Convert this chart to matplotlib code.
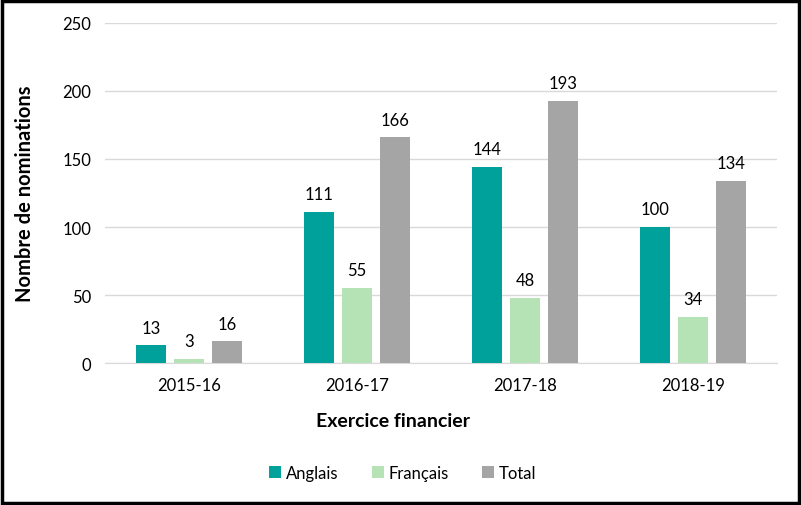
import numpy as np
from matplotlib import pyplot as plt

plt.rcParams['font.family'] = ['Lato', 'DejaVu Sans']

exercices = ['2015-16', '2016-17', '2017-18', '2018-19']
anglais = [13, 111, 144, 100]
francais = [3, 55, 48, 34]
total = [16, 166, 193, 134]

series = [('Anglais', anglais, '#00A19A'),
          ('Français', francais, '#B5E3B5'),
          ('Total', total, '#A5A5A5')]

fig = plt.figure(figsize=(8.01, 5.06), dpi=100)
ax = fig.add_axes([0.131, 0.2806, 0.839, 0.672])

x = np.arange(len(exercices))
w = 0.178
step = 0.226
for i, (nom, vals, coul) in enumerate(series):
    pos = x + (i - 1) * step
    barres = ax.bar(pos, vals, w, color=coul, label=nom, zorder=3)
    ax.bar_label(barres, padding=7, fontsize=12, color='#000000')

ax.set_xlim(-0.5, len(exercices) - 0.5)
ax.set_ylim(0, 250)
ax.set_yticks(range(0, 251, 50))
ax.grid(axis='y', color='#D9D9D9', linewidth=1, zorder=0)
ax.set_xticks(x)
ax.set_xticklabels(exercices)
ax.tick_params(axis='both', length=0, labelsize=12, pad=10)
for s in ['top', 'right', 'left']:
    ax.spines[s].set_visible(False)
ax.spines['bottom'].set_color('#D9D9D9')

ax.set_ylabel('Nombre de nominations', fontsize=14.5, fontweight='bold')
ax.yaxis.set_label_coords(-0.104, 0.5)
ax.set_xlabel('Exercice financier', fontsize=14, fontweight='bold')
ax.xaxis.set_label_coords(0.4286, -0.145)

fig.legend(loc='center', bbox_to_anchor=(0.503, 0.063), ncol=3, frameon=False,
           fontsize=12, handlelength=0.7, handleheight=0.7, columnspacing=2.0,
           handletextpad=0.3)

fig.patches.append(plt.Rectangle((0.002, 0.003), 0.996, 0.994, transform=fig.transFigure,
                                 fill=False, edgecolor='black', linewidth=2.5))

fig.savefig('out.png', dpi=100)
